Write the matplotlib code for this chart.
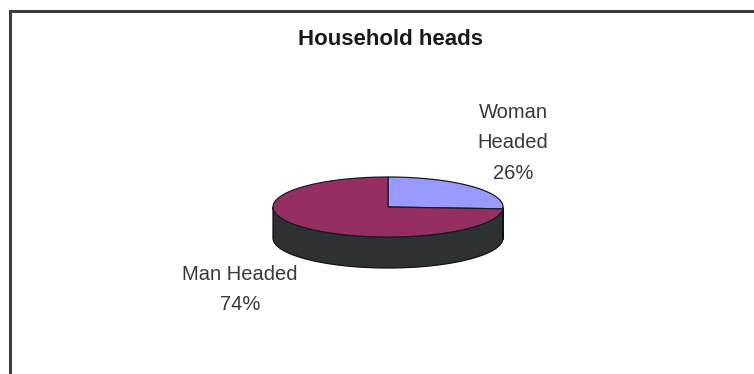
import numpy as np
import matplotlib.pyplot as plt
from matplotlib.patches import Polygon

plt.rcParams['font.family'] = ['Liberation Sans', 'DejaVu Sans']

title = "Household heads"
labels = [["Woman", "Headed"], ["Man Headed"]]
shares = [26, 74]
top_colors = ["#9999ff", "#952f62"]
side_colors = ["#34344a", "#2e3131"]

# pie geometry in pixel units (y grows downward)
cx, cy = 388, 207
ra, rb = 115, 30
depth = 31


def rim(t0, t1, n=120):
    t = np.radians(np.linspace(t0, t1, n))
    return np.column_stack([cx + ra * np.cos(t), cy - rb * np.sin(t)])


fig = plt.figure(figsize=(7.54, 3.74), dpi=100)
ax = fig.add_axes([0, 0, 1, 1])
ax.set_xlim(0, 754)
ax.set_ylim(374, 0)
ax.axis("off")

# chart frame (only left and top edges are inside the image)
ax.plot([9.5, 9.5, 754], [374, 10.5, 10.5], color="#3c3c3c", lw=2.2,
        solid_joinstyle="miter")

# slice angles, clockwise from 12 o'clock
fracs = np.array(shares) / sum(shares)
starts = 90 - 360 * np.concatenate([[0], np.cumsum(fracs)[:-1]])
ends = starts - 360 * fracs

# sides: only the front half (180..360 deg) is visible
for s, e, sc in zip(starts, ends, side_colors):
    lo, hi = e % 360, s % 360
    if hi <= lo:
        hi += 360
    for off in (0, 360):
        a0 = max(lo, 180 + off)
        a1 = min(hi, 360 + off)
        if a1 > a0:
            edge = rim(a0, a1)
            low = edge[::-1] + [0, depth]
            ax.add_patch(Polygon(np.vstack([edge, low]), closed=True,
                                 facecolor=sc, edgecolor="#111111", lw=0.9))

# tops
for s, e, tc in zip(starts, ends, top_colors):
    pts = np.vstack([[cx, cy], rim(s, e)])
    ax.add_patch(Polygon(pts, closed=True, facecolor=tc,
                         edgecolor="#1a1a2a", lw=0.9, joinstyle="round"))

ax.text(391, 39, title, ha="center", va="center", fontsize=16,
        fontweight="bold", color="#1a1a1a")

# data labels: name lines followed by the percentage
label_pos = [(513, 112, 30.5), (240, 275, 29)]
for lab, v, (x, y, step) in zip(labels, shares, label_pos):
    for i, line in enumerate(lab + [f"{v}%"]):
        ax.text(x, y + i * step, line, ha="center", va="center",
                fontsize=14.5, color="#383838")

fig.savefig("out.png", dpi=100)
